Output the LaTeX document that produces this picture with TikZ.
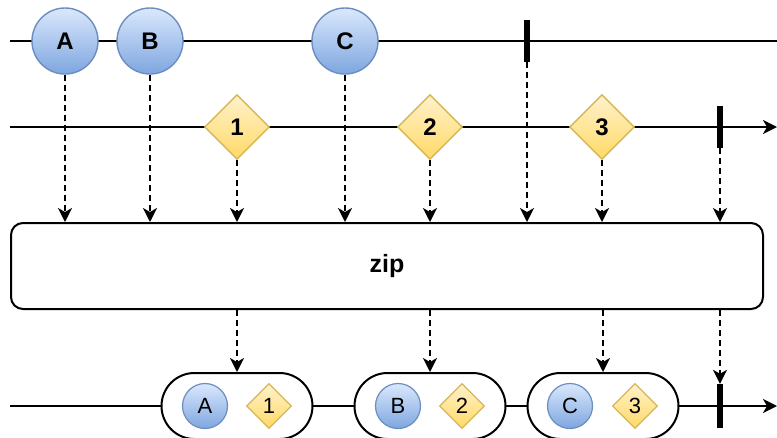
\documentclass[tikz,border=0pt]{standalone}
\usepackage{fontspec}
\setmainfont{Liberation Sans}
\usetikzlibrary{arrows.meta,shapes.geometric}
\definecolor{marbleline}{HTML}{6C8EBF}
\definecolor{marbletop}{HTML}{DAE8FC}
\definecolor{marblebot}{HTML}{7EA6E0}
\definecolor{tokenline}{HTML}{D6B656}
\definecolor{tokentop}{HTML}{FFF2CC}
\definecolor{tokenbot}{HTML}{FFD966}
\tikzset{
  tip/.style={-{Stealth[length=14pt,width=14pt,inset=4pt]}},
  timeline/.style={line width=2pt},
  feed/.style={tip,line width=2pt,dash pattern=on 6pt off 4pt},
  marble/.style={circle,draw=marbleline,line width=1.4pt,top color=marbletop,bottom color=marblebot,
    inner sep=0pt,minimum size=66pt,font=\fontsize{24}{24}\selectfont\bfseries},
  token/.style={diamond,draw=tokenline,line width=1.4pt,top color=tokentop,bottom color=tokenbot,
    inner sep=0pt,minimum size=65pt,font=\fontsize{24}{24}\selectfont\bfseries},
  minimarble/.style={marble,minimum size=45pt,line width=1.2pt,font=\fontsize{22}{22}\selectfont},
  minitoken/.style={token,minimum size=45pt,line width=1.2pt,font=\fontsize{22}{22}\selectfont},
  stopbar/.style={rectangle,fill=black,inner sep=0pt,minimum width=6pt,minimum height=42pt},
  opbox/.style={rectangle,draw,line width=2pt,rounded corners=12pt,fill=white,
    minimum width=752pt,minimum height=86pt,font=\fontsize{25}{25}\selectfont\bfseries},
  pill/.style={rectangle,draw,line width=2pt,rounded corners=33pt,fill=white,
    minimum width=151pt,minimum height=66pt}
}
\begin{document}
\begin{tikzpicture}[x=1pt,y=-1pt]
\useasboundingbox (0,0) rectangle (777,437);
\coordinate (s1) at (10,41);  \coordinate (e1) at (777,41);
\coordinate (s2) at (10,127); \coordinate (e2) at (777,127);
\coordinate (s3) at (10,406); \coordinate (e3) at (777,406);
\draw[timeline] (s1) -- (e1);
\draw[timeline,tip] (s2) -- (e2);
\draw[timeline,tip] (s3) -- (e3);

\node[marble] (mA) at (65,41) {A};
\node[marble] (mB) at (150,41) {B};
\node[marble] (mC) at (345,41) {C};
\node[stopbar] (t1) at (527,41) {};
\node[token] (d1) at (237,127) {1};
\node[token] (d2) at (430,127) {2};
\node[token] (d3) at (602,127) {3};
\node[stopbar] (t2) at (720,127) {};

\node[opbox] (zip) at (387,266) {zip};
\foreach \n in {mA,mB,mC,t1,d1,d2,d3,t2}
  \draw[feed] (\n) -- (\n |- zip.north);

\node[pill] (p1) at (237,406) {};
\node[pill] (p2) at (430,406) {};
\node[pill] (p3) at (603,406) {};
\node[minimarble] (a1) at (205,406) {A};
\node[minitoken]  (b1) at (269,406) {1};
\node[minimarble] (a2) at (398,406) {B};
\node[minitoken]  (b2) at (462,406) {2};
\node[minimarble] (a3) at (570,406) {C};
\node[minitoken]  (b3) at (635,406) {3};
\node[stopbar,minimum height=44pt] (t3) at (720,406) {};
\foreach \n in {p1,p2,p3,t3}
  \draw[feed] (zip.south -| \n) -- (\n);
\end{tikzpicture}
\end{document}
